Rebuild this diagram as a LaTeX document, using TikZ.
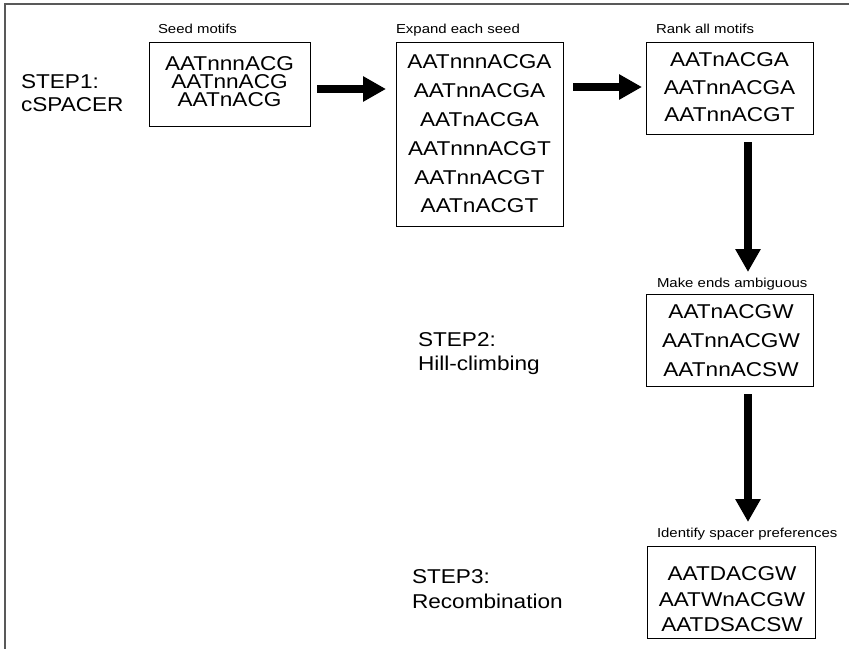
\documentclass[tikz,border=0pt]{standalone}
\usepackage{fontspec}
\setmainfont{Liberation Sans}
\newfontfamily\mainf[FakeStretch=1.13]{Liberation Sans}
\newfontfamily\labf[FakeStretch=1.15]{Liberation Sans}
\usetikzlibrary{arrows.meta}
\begin{document}
\begin{tikzpicture}[x=1pt,y=-1pt,
  box/.style={draw, line width=1pt, inner sep=0pt, outer sep=0pt, anchor=north west},
  motifs/.style={inner sep=0pt, outer sep=0pt, anchor=north, align=center},
  steplabel/.style={inner sep=0pt, outer sep=0pt, anchor=north west, align=left, font=\mainf\fontsize{20}{23}\selectfont},
  boxlabel/.style={inner sep=0pt, outer sep=0pt, anchor=base west, font=\labf\fontsize{13}{15}\selectfont},
  bigarrow/.style={line width=7.5pt, -{Triangle[length=23pt,width=24pt]}},
  frameline/.style={line width=1.5pt, draw=black!65}]
\useasboundingbox (0,0) rectangle (849,649);
\fill[white] (0,0) rectangle (849,649);
% frame
\coordinate (fr0) at (5,4);
\coordinate (fr1) at (849,4);
\coordinate (fr2) at (5,649);
\draw[frameline] (fr1) -- (fr0) -- (fr2);

% boxes
\node[box, minimum width=161pt, minimum height=84pt] (b1) at (149,42) {};
\node[box, minimum width=167pt, minimum height=184pt] (b2) at (396,42) {};
\node[box, minimum width=167pt, minimum height=92pt] (b3) at (646,42) {};
\node[box, minimum width=167pt, minimum height=92pt] (b4) at (646,294) {};
\node[box, minimum width=168pt, minimum height=92pt] (b5) at (647,546) {};

% box texts
\node[motifs, font=\mainf\fontsize{20}{18}\selectfont] (t1) at (229.5,57) {AATnnnACG\\AATnnACG\\AATnACG};
\node[motifs, font=\mainf\fontsize{20}{28.8}\selectfont] (t2) at (479.5,55) {AATnnnACGA\\AATnnACGA\\AATnACGA\\AATnnnACGT\\AATnnACGT\\AATnACGT};
\node[motifs, font=\mainf\fontsize{20}{27.5}\selectfont] (t3) at (729.5,53) {AATnACGA\\AATnnACGA\\AATnnACGT};
\node[motifs, font=\mainf\fontsize{20}{29}\selectfont] (t4) at (731,305) {AATnACGW\\AATnnACGW\\AATnnACSW};
\node[motifs, font=\mainf\fontsize{20}{25.5}\selectfont] (t5) at (732,567) {AATDACGW\\AATWnACGW\\AATDSACSW};

% box labels
\node[boxlabel] (l1) at (158,33) {Seed motifs};
\node[boxlabel] (l2) at (396,33) {Expand each seed};
\node[boxlabel] (l3) at (656,33) {Rank all motifs};
\node[boxlabel] (l4) at (657,287) {Make ends ambiguous};
\node[boxlabel] (l5) at (657,537) {Identify spacer preferences};

% step labels
\node[steplabel] (s1) at (21,75) {STEP1:\\cSPACER};
\node[steplabel, font=\mainf\fontsize{20}{23.7}\selectfont] (s2) at (418,333) {STEP2:\\Hill-climbing};
\node[steplabel, font=\mainf\fontsize{20}{25}\selectfont] (s3) at (412,570) {STEP3:\\Recombination};

% arrows
\coordinate (a1s) at ([shift={(7,5)}]b1.east);
\draw[bigarrow, shorten >=10pt] (a1s) -- (a1s -| b2.west);
\coordinate (a2e) at ([yshift=1]b3.west);
\draw[bigarrow, shorten <=10pt, shorten >=4pt] (a2e -| b2.east) -- (a2e);
\coordinate (a3s) at ([shift={(18.5,8)}]b3.south);
\draw[bigarrow, shorten >=22pt] (a3s) -- (a3s |- b4.north);
\coordinate (a4s) at ([shift={(18.5,8)}]b4.south);
\draw[bigarrow, shorten >=24pt] (a4s) -- (a4s |- b5.north);
\end{tikzpicture}
\end{document}
